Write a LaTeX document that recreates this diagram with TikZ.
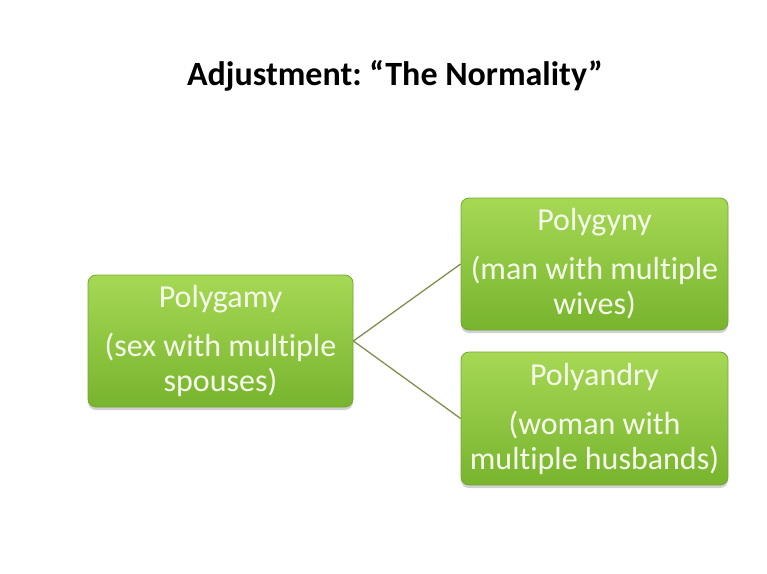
\documentclass[tikz,border=0pt]{standalone}
\usepackage{fontspec}
\setmainfont[Ligatures=NoCommon]{Carlito}
\usepackage{tikz}
\usetikzlibrary{shapes,positioning,shadows}
\usepackage{xcolor}
\definecolor{boxtop}{RGB}{166,216,84}
\definecolor{boxbot}{RGB}{120,180,46}
\definecolor{boxline}{RGB}{116,166,50}
\definecolor{boxtext}{RGB}{246,252,236}
\definecolor{linkcol}{RGB}{128,142,78}
\tikzstyle{greenbox} = [draw=boxline, line width=0.8pt, rounded corners=8pt,
  top color=boxtop, bottom color=boxbot, text=boxtext, align=center,
  minimum width=265pt, minimum height=132pt, inner sep=0pt,
  drop shadow={shadow xshift=0pt, shadow yshift=-3pt, opacity=0.3, fill=black!60},
  font=\fontsize{32}{35}\selectfont]
\tikzstyle{link} = [line width=1.3pt, color=linkcol]
\frenchspacing

\begin{document}
\begin{tikzpicture}[x=1pt,y=-1pt]
\useasboundingbox (0,0) rectangle (767,573);
% Title
\node[font=\fontsize{34}{40}\selectfont\bfseries] (title) at (395,76) {Adjustment: “The Normality”};

% Boxes
\node[greenbox] (polygamy) at (220.5,341) {Polygamy\\[14pt](sex with multiple\\spouses)};
\node[greenbox, minimum width=267pt] (polygyny) at (594.5,264) {Polygyny\\[14pt](man with multiple\\wives)};
\node[greenbox, minimum width=267pt, minimum height=133pt] (polyandry) at (594.5,418.5) {Polyandry\\[14pt](woman with\\multiple husbands)};

% Links
\draw[link] (polygamy.east) -- (polygyny.west);
\draw[link] (polygamy.east) -- (polyandry.west);
\end{tikzpicture}
\end{document}
